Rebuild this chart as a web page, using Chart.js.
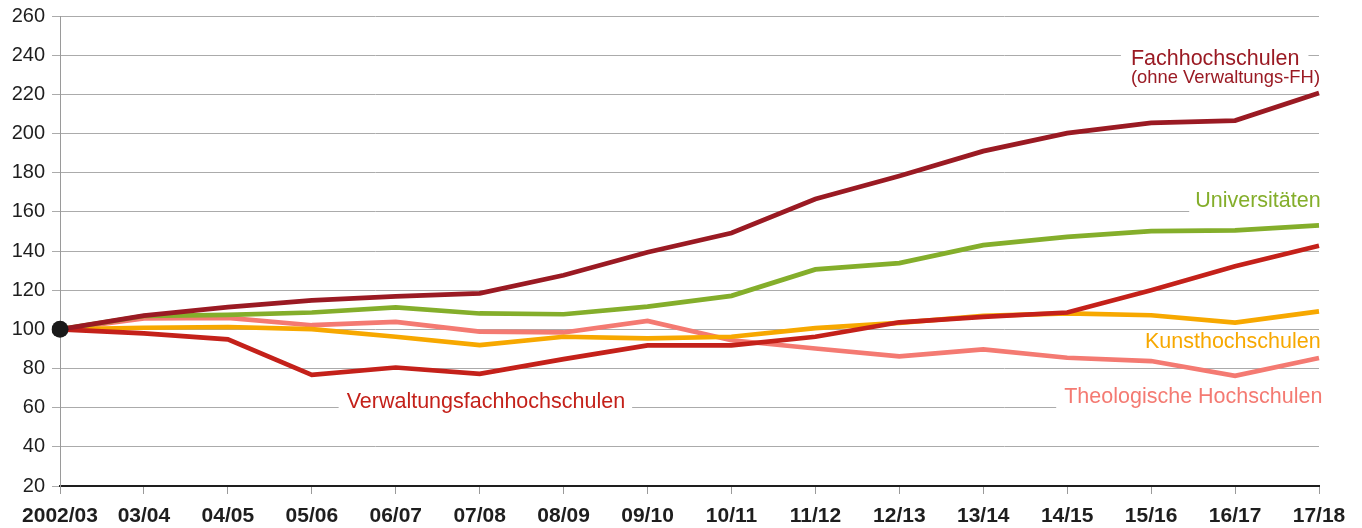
<!DOCTYPE html>
<html>
<head>
<meta charset="utf-8">
<script src="https://cdn.jsdelivr.net/npm/chart.js@4/dist/chart.umd.min.js"></script>
<style>
html,body{margin:0;padding:0;background:#fff;}
#wrap{width:1362px;height:528px;}
</style>
</head>
<body>
<div id="wrap"><canvas id="c" width="1362" height="528"></canvas></div>
<script>
const categories = ["2002/03","03/04","04/05","05/06","06/07","07/08","08/09","09/10","10/11","11/12","12/13","13/14","14/15","15/16","16/17","17/18"];
const yTicks = [20,40,60,80,100,120,140,160,180,200,220,240,260];

const fachhochschulen = [100,107,111.3,114.8,116.8,118.4,127.6,139.4,149.2,166.5,178.3,191,200.2,205.4,206.6,220.7];
const verwaltungsFH   = [100,97.9,94.9,76.7,80.5,77.3,84.8,91.8,91.8,96.2,103.6,106.4,108.6,120,132.2,142.7];
const universitaeten  = [100,106.8,107.4,108.6,111.2,108.1,107.7,111.6,117.1,130.6,133.8,143,147.2,150.1,150.5,153.1];
const kunsthochschulen= [100,100.8,101.2,100.1,96.2,91.9,96.2,95.4,96.2,100.6,103.3,106.9,108.1,107.2,103.4,109.2];
const theologische    = [100,105.6,105.8,102.1,103.8,98.8,98.4,104.3,94.4,90.2,86.2,89.8,85.5,83.8,76.3,85.4];
const startPoint      = [100];

const C_FH = '#9a1a23', C_VFH = '#c4211a', C_UNI = '#84ae2b', C_KUNST = '#f7a800', C_THEO = '#f47a72';

// series labels: text, category position, value (baseline), alignment, colour
const seriesLabels = [
  {text:'Universitäten', x:15.02, y:162.6, align:'right', color:C_UNI, size:21.5},
  {text:'Kunsthochschulen', x:15.02, y:90.6, align:'right', color:C_KUNST, size:21.5},
  {text:'Theologische Hochschulen', x:15.04, y:62.2, align:'right', color:C_THEO, size:21.5, padL:8, padR:30},
  {text:'Verwaltungsfachhochschulen', x:3.415, y:59.9, align:'left', color:C_VFH, size:21.5, padL:8, padR:7}
];

const FONT = '"Liberation Sans", Arial, Helvetica, sans-serif';

const labelPlugin = {
  id: 'seriesLabels',
  beforeDatasetsDraw(chart) {
    const ctx = chart.ctx;
    const xs = chart.scales.x, ys = chart.scales.y;
    ctx.save();
    ctx.textBaseline = 'alphabetic';
    const subRight = xs.getPixelForValue(15) + 1;
    ctx.font = '18.4px ' + FONT;
    const subW = ctx.measureText('(ohne Verwaltungs-FH)').width;
    const left = subRight - subW;
    const yMain = ys.getPixelForValue(235);
    const ySub = ys.getPixelForValue(225.6);
    ctx.font = '21.5px ' + FONT;
    const mainW = ctx.measureText('Fachhochschulen').width;
    ctx.fillStyle = '#fff';
    ctx.fillRect(left - 10, yMain - 17, mainW + 19, 23);
    ctx.fillRect(left - 4, ySub - 14, subW + 8, 19);
    ctx.fillStyle = C_FH;
    ctx.textAlign = 'left';
    ctx.fillText('Fachhochschulen', left, yMain);
    ctx.font = '18.4px ' + FONT;
    ctx.fillText('(ohne Verwaltungs-FH)', left, ySub);

    seriesLabels.forEach(l => {
      ctx.font = l.size + 'px ' + FONT;
      const w = ctx.measureText(l.text).width;
      const px = xs.getPixelForValue(0) + (xs.getPixelForValue(1) - xs.getPixelForValue(0)) * l.x;
      const py = ys.getPixelForValue(l.y);
      const lx = l.align === 'right' ? px - w : px;
      ctx.fillStyle = '#fff';
      const pl = l.padL || 6, pr = l.padR || 6;
      ctx.fillRect(lx - pl, py - 17, w + pl + pr, 23);
      ctx.fillStyle = l.color;
      ctx.textAlign = 'left';
      ctx.fillText(l.text, lx, py);
    });
    ctx.restore();
  }
};

const mk = (label, data, color, order) => ({
  label, data, borderColor: color, backgroundColor: color, borderWidth: 4.7,
  pointRadius: 0, pointHoverRadius: 0, tension: 0, fill: false, order,
  borderJoinStyle: 'miter', borderCapStyle: 'butt'
});

const chart = new Chart(document.getElementById('c'), {
  type: 'line',
  data: {
    labels: categories,
    datasets: [
      {label:'Start', data: startPoint, showLine:false, pointRadius:8.5, pointBackgroundColor:'#1a1a1a', pointBorderColor:'#1a1a1a', pointBorderWidth:0, order:0},
      mk('Fachhochschulen (ohne Verwaltungs-FH)', fachhochschulen, C_FH, 1),
      mk('Verwaltungsfachhochschulen', verwaltungsFH, C_VFH, 2),
      mk('Universitäten', universitaeten, C_UNI, 3),
      mk('Kunsthochschulen', kunsthochschulen, C_KUNST, 4),
      mk('Theologische Hochschulen', theologische, C_THEO, 5)
    ]
  },
  plugins: [labelPlugin],
  options: {
    responsive: false,
    animation: false,
    events: [],
    layout: { padding: { top: 16, right: 43, left: 0, bottom: 0 } },
    plugins: { legend: { display: false }, tooltip: { enabled: false } },
    scales: {
      x: {
        type: 'category',
        offset: false,
        grid: { drawOnChartArea: false, drawTicks: true, tickLength: 8, color: '#9a9a9a', lineWidth: 1 },
        border: { display: true, color: '#1e1e1e', width: 2 },
        ticks: { color: '#1e1e1e', font: { family: FONT, size: 21, weight: 'bold' }, padding: 10, maxRotation: 0, autoSkip: false },
        afterFit(s) { s.height = 42; s.paddingLeft = 0; s.paddingRight = 0; }
      },
      y: {
        min: 20, max: 260,
        afterBuildTicks(s) { s.ticks = yTicks.map(v => ({ value: v })); },
        grid: { color: '#ababab', lineWidth: 1, drawTicks: true, tickLength: 8 },
        border: { display: true, color: '#9a9a9a', width: 1 },
        ticks: { color: '#1e1e1e', font: { family: FONT, size: 20 }, padding: 7 },
        afterFit(s) { s.width = 60; s.paddingTop = 0; s.paddingBottom = 0; }
      }
    }
  }
});
</script>
</body>
</html>
